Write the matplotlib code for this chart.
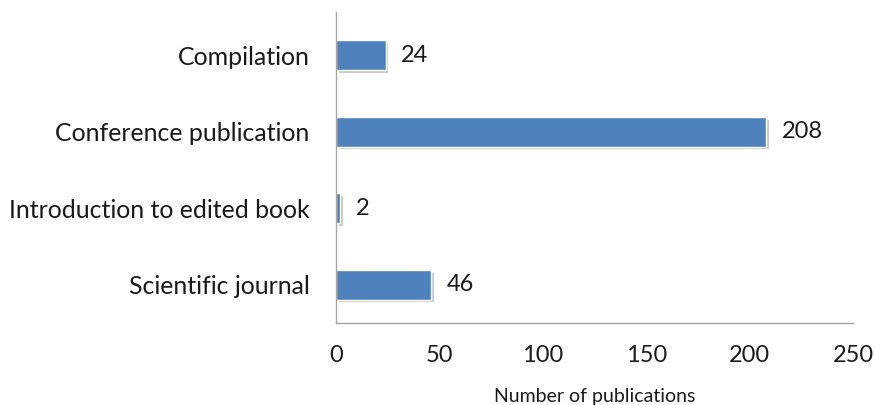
import matplotlib
matplotlib.use("Agg")
import matplotlib.pyplot as plt
import matplotlib.patheffects as pe

categories = ["Compilation", "Conference publication", "Introduction to edited book", "Scientific journal"]
counts = [24, 208, 2, 46]
x_ticks = [0, 50, 100, 150, 200, 250]

bar_colour = "#4F81BD"
axis_colour = "#A6A6A6"

plt.rcParams['font.family'] = ['Lato', 'DejaVu Sans']

fig = plt.figure(figsize=(8.75, 4.05), dpi=100)
ax = fig.add_axes([0.384, 0.2025, 0.591, 0.768])

pos = list(range(len(categories)))
bars = ax.barh(pos, counts, height=0.39, color=bar_colour, edgecolor="white", linewidth=1.0)
for b in bars:
    b.set_path_effects([pe.SimplePatchShadow(offset=(2, -2), shadow_rgbFace="#888888", alpha=0.45), pe.Normal()])

# value labels to the right of each bar
for p, v in zip(pos, counts):
    ax.annotate(str(v), (v, p), xytext=(11, 0), textcoords="offset points",
                va="center", ha="left", fontsize=17, color="#1a1a1a")

ax.set_xlim(0, 250)
ax.set_ylim(3.5, -0.565)
ax.set_xticks(x_ticks)
ax.set_yticks(pos)
ax.set_yticklabels(categories)

for s in ["top", "right"]:
    ax.spines[s].set_visible(False)
for s in ["left", "bottom"]:
    ax.spines[s].set_color(axis_colour)
    ax.spines[s].set_linewidth(1.0)

ax.tick_params(axis="both", length=0, labelcolor="#1a1a1a")
ax.tick_params(axis="y", labelsize=17.9, pad=19)
ax.tick_params(axis="x", labelsize=17, pad=16)
ax.set_xlabel("Number of publications", fontsize=14, color="#1a1a1a", labelpad=16)

fig.savefig("out.png", dpi=100)
